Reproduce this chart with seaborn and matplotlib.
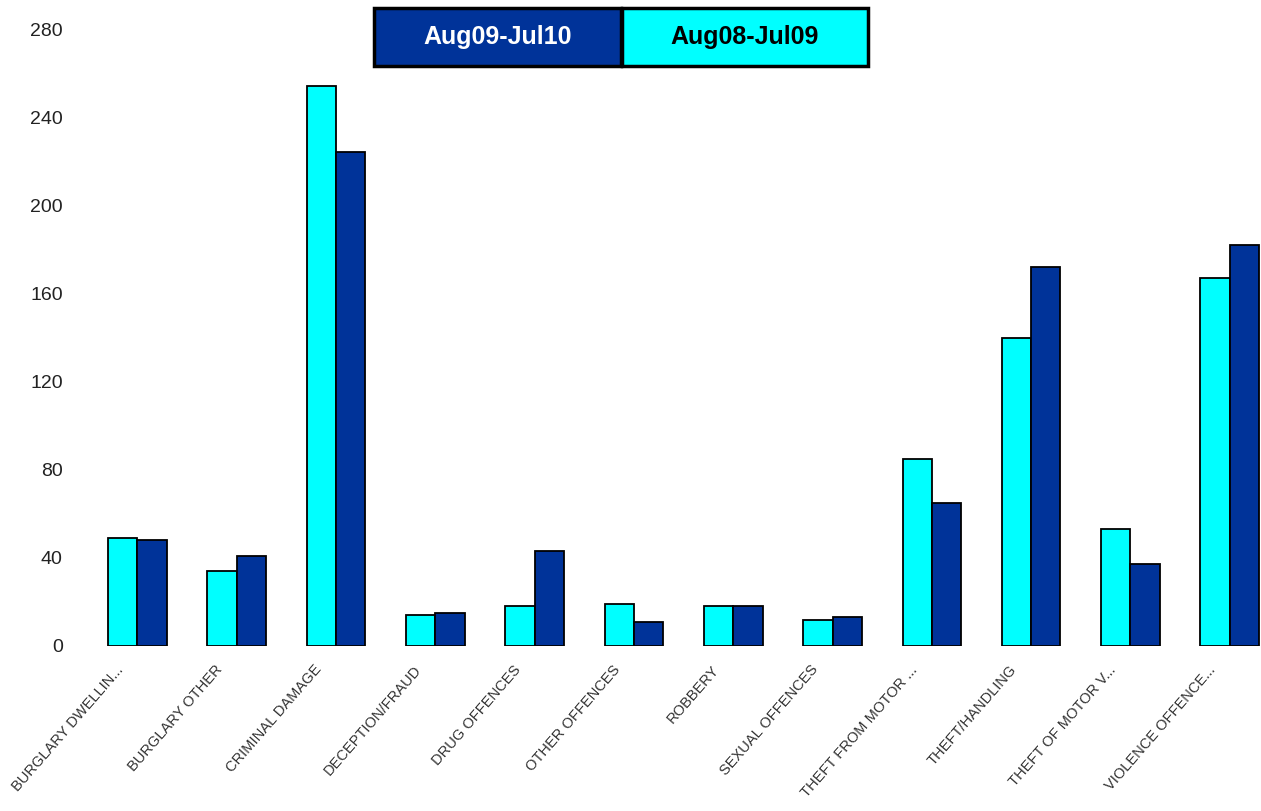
import matplotlib
matplotlib.use("Agg")
import matplotlib.pyplot as plt
import matplotlib.transforms as mtransforms
import pandas as pd
import seaborn as sns
from matplotlib.patches import Rectangle

# dane
categories = [
    "BURGLARY DWELLIN...", "BURGLARY OTHER", "CRIMINAL DAMAGE", "DECEPTION/FRAUD",
    "DRUG OFFENCES", "OTHER OFFENCES", "ROBBERY", "SEXUAL OFFENCES",
    "THEFT FROM MOTOR ...", "THEFT/HANDLING", "THEFT OF MOTOR V...", "VIOLENCE OFFENCE...",
]
aug08_jul09 = [49, 34, 254, 14, 18, 19, 18, 12, 85, 140, 53, 167]
aug09_jul10 = [48, 41, 224, 15, 43, 11, 18, 13, 65, 172, 37, 182]
series_names = ["Aug08-Jul09", "Aug09-Jul10"]
y_ticks = [0, 40, 80, 120, 160, 200, 240, 280]

colors = {"Aug08-Jul09": "#00FFFF", "Aug09-Jul10": "#003399"}


def main() -> None:
    df = pd.DataFrame({
        "category": categories * 2,
        "period": [series_names[0]] * len(categories) + [series_names[1]] * len(categories),
        "value": aug08_jul09 + aug09_jul10,
    })

    sns.set_style("white")
    plt.rcParams["font.family"] = ["Liberation Sans", "DejaVu Sans"]

    W, H = 1261, 811
    fig = plt.figure(figsize=(W / 100, H / 100), dpi=100)
    ax = fig.add_axes([87.8 / W, (H - 646) / H, (W - 87.8) / W, 617 / H])

    sns.barplot(
        data=df, x="category", y="value", hue="period",
        hue_order=series_names, palette=colors, width=0.59, saturation=1,
        edgecolor="black", linewidth=1.3, ax=ax, legend=False,
    )

    ax.set_ylim(0, 280)
    ax.set_xlim(-0.5, (W - 87.8) / 99.3 - 0.5)
    ax.set_yticks(y_ticks)
    ax.set_yticklabels([str(t) for t in y_ticks], fontsize=14, color="#222222")
    ax.tick_params(axis="y", length=0, pad=18)
    ax.tick_params(axis="x", length=0, pad=12)
    ax.set_xticks(range(len(categories)))
    ax.set_xticklabels(categories, rotation=49, ha="right", rotation_mode="anchor",
                       fontsize=10.5, color="#333333")
    # przesunięcie etykiet w lewo, jak w oryginale
    shift = mtransforms.ScaledTranslation(-22 / 100, 0, fig.dpi_scale_trans)
    for lbl in ax.get_xticklabels():
        lbl.set_transform(lbl.get_transform() + shift)
    ax.set_xlabel("")
    ax.set_ylabel("")
    sns.despine(ax=ax, left=True, bottom=True)

    # legenda jako dwa pola u góry
    boxes = [
        (374, 621, "#003399", "white", series_names[1]),
        (622, 868, "#00FFFF", "black", series_names[0]),
    ]
    for x0, x1, fc, tc, label in boxes:
        rect = Rectangle((x0 / W, (H - 66) / H), (x1 - x0) / W, 58 / H,
                         transform=fig.transFigure, facecolor=fc,
                         edgecolor="black", linewidth=2.5)
        fig.add_artist(rect)
        fig.text((x0 + x1) / 2 / W, (H - 37) / H, label, ha="center", va="center",
                 fontsize=18, fontweight="bold", color=tc)

    fig.savefig("out.png", dpi=100)
    plt.close(fig)


if __name__ == "__main__":
    main()
